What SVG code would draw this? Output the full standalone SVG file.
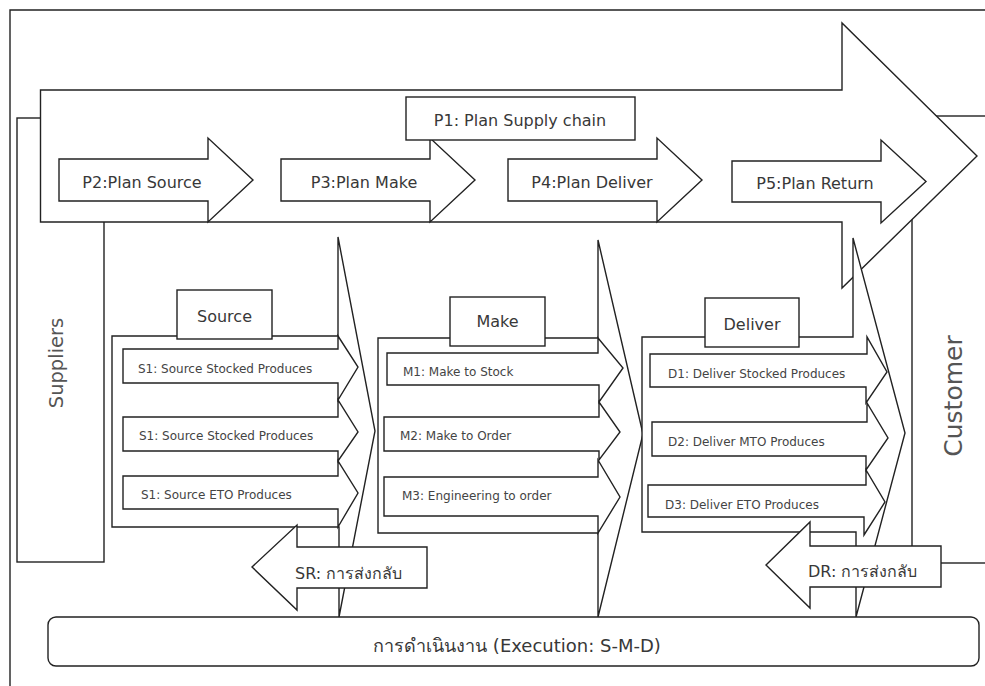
<svg xmlns="http://www.w3.org/2000/svg" width="985" height="686" viewBox="0 0 985 686">
  <style>
    .sh { fill: #fff; stroke: #222; stroke-width: 1.4; stroke-linejoin: miter; }
    .ln { fill: none; stroke: #222; stroke-width: 1.4; }
    text { font-family: "DejaVu Sans", "Noto Sans", sans-serif; fill: #383838; }
    .big { font-size: 16px; }
    .sm { font-size: 12px; fill: #444; }
    .ret { font-size: 16px; }
    .side { fill: #555; }
  </style>
  <rect width="985" height="686" fill="#fff"/>

  <!-- outer frame -->
  <g id="frame">
    <path class="ln" d="M10,686 V10 H985"/>
  </g>

  <!-- side parties -->
  <g id="suppliers">
    <rect class="sh" x="17" y="118" width="87" height="444"/>
    <text class="side" transform="translate(62.5,363) rotate(-90)" text-anchor="middle" font-size="19.5">Suppliers</text>
  </g>
  <g id="customer">
    <rect class="sh" x="912" y="116" width="100" height="447"/>
    <text class="side" transform="translate(962,396) rotate(-90)" text-anchor="middle" font-size="25">Customer</text>
  </g>

  <!-- planning band -->
  <g id="plan-band">
    <path class="sh" d="M40.5,90 H842 V23 L977,156 L842,288 V222 H40.5 Z"/>
  </g>
  <g id="p2">
    <path class="sh" d="M59,159 H208 V138 L253,180 L208,222 V201 H59 Z"/>
    <text class="big" x="142" y="188" text-anchor="middle">P2:Plan Source</text>
  </g>
  <g id="p3">
    <path class="sh" d="M281,159 H430 V138 L475,180 L430,222 V201 H281 Z"/>
    <text class="big" x="364" y="188" text-anchor="middle">P3:Plan Make</text>
  </g>
  <g id="p4">
    <path class="sh" d="M508,159 H657 V138 L702,180 L657,222 V201 H508 Z"/>
    <text class="big" x="592" y="188" text-anchor="middle">P4:Plan Deliver</text>
  </g>
  <g id="p5">
    <path class="sh" d="M732,161 H881 V140 L926,181.5 L881,223 V202 H732 Z"/>
    <text class="big" x="815" y="189" text-anchor="middle">P5:Plan Return</text>
  </g>
  <g id="p1">
    <rect class="sh" x="406" y="97" width="229" height="43"/>
    <text class="big" x="520" y="126" text-anchor="middle">P1: Plan Supply chain</text>
  </g>

  <!-- source stage -->
  <g id="source">
    <path class="sh" d="M112,336 H338 V237 L375,431 L339,617 V527 H112 Z"/>
    <path class="sh" d="M123,349 H338 V336 L358,367 L338,400 V383 H123 Z"/>
    <path class="sh" d="M123,417 H338 V400 L358,432 L338,461 V451 H123 Z"/>
    <path class="sh" d="M123,476 H338 V461 L358,493 L338,527 V509 H123 Z"/>
    <text class="sm" x="138" y="373">S1: Source Stocked Produces</text>
    <text class="sm" x="139" y="440">S1: Source Stocked Produces</text>
    <text class="sm" x="141" y="499">S1: Source ETO Produces</text>
    <rect class="sh" x="177" y="290" width="95" height="49"/>
    <text class="big" x="224.5" y="322" text-anchor="middle">Source</text>
  </g>

  <!-- make stage -->
  <g id="make">
    <path class="sh" d="M378,338 H598 V240 L643,434 L598,617 V533 H378 Z"/>
    <path class="sh" d="M387,353 H598 V338 L623,368 L599,402 V385 H387 Z"/>
    <path class="sh" d="M384,417 H599 V402 L620,432 L599,460 V451 H384 Z"/>
    <path class="sh" d="M384,477 H598 V460 L620,497 L598,533 V516 H384 Z"/>
    <text class="sm" x="403" y="376">M1: Make to Stock</text>
    <text class="sm" x="400" y="440">M2: Make to Order</text>
    <text class="sm" x="402" y="500">M3: Engineering to order</text>
    <rect class="sh" x="450" y="297" width="95" height="49"/>
    <text class="big" x="497.5" y="327" text-anchor="middle">Make</text>
  </g>

  <!-- deliver stage -->
  <g id="deliver">
    <path class="sh" d="M642,337 H853 V238 L905,433 L856,617 V532 H642 Z"/>
    <path class="sh" d="M650,354 H867 V337 L887,372 L866,403 V387 H650 Z"/>
    <path class="sh" d="M652,422 H867 V403 L888,438 L866,470 V456 H652 Z"/>
    <path class="sh" d="M648,485 H866 V470 L885,502 L864,535 V517 H648 Z"/>
    <text class="sm" x="668" y="378">D1: Deliver Stocked Produces</text>
    <text class="sm" x="668" y="446">D2: Deliver MTO Produces</text>
    <text class="sm" x="665" y="509">D3: Deliver ETO Produces</text>
    <rect class="sh" x="705" y="298" width="94" height="49"/>
    <text class="big" x="752" y="330" text-anchor="middle">Deliver</text>
  </g>

  <!-- return flows -->
  <g id="sr">
    <path class="sh" d="M427,547 V588 H297 V610 L252,567 L297,525 V547 Z"/>
    <text class="ret" x="295" y="579">SR: การส่งกลับ</text>
  </g>
  <g id="dr">
    <path class="sh" d="M941,546 V587 H810 V608 L766,565 L810,522 V546 Z"/>
    <text class="ret" x="808" y="577">DR: การส่งกลับ</text>
  </g>

  <!-- execution bar -->
  <g id="execution">
    <rect class="sh" x="48" y="617" width="931" height="49" rx="8" ry="8"/>
    <text x="517" y="652" text-anchor="middle" font-size="18">การดำเนินงาน (Execution: S-M-D)</text>
  </g>

  <g id="connectors"/>
</svg>
